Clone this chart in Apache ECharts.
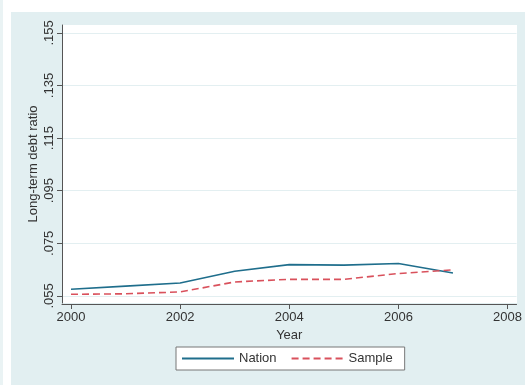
<!DOCTYPE html>
<html>
<head>
<meta charset="utf-8">
<script src="https://cdn.jsdelivr.net/npm/echarts@6/dist/echarts.min.js"></script>
<style>
  html, body { margin: 0; padding: 0; background: #ffffff; }
  #chart { width: 525px; height: 385px; }
</style>
</head>
<body>
<div id="chart"></div>
<script>
// Long-term debt ratio by year, nation vs. sample
const years = [2000, 2001, 2002, 2003, 2004, 2005, 2006, 2007];
const nation = [0.0575, 0.0587, 0.0599, 0.0644, 0.0669, 0.0667, 0.0673, 0.0637];
const sample = [0.0556, 0.0558, 0.0565, 0.0603, 0.0613, 0.0613, 0.0635, 0.0649];
const xTicks = [2000, 2002, 2004, 2006, 2008];
const yTicks = [0.055, 0.075, 0.095, 0.115, 0.135, 0.155];

const fontFamily = '"Liberation Sans", Arial, sans-serif';
const chart = echarts.init(document.getElementById('chart'), null, { renderer: 'canvas' });

const pairs = (vals) => years.map((y, i) => [y, vals[i]]);

chart.setOption({
  animation: false,
  backgroundColor: '#ffffff',
  graphic: [
    { type: 'rect', z: -10, shape: { x: 0, y: 0, width: 3, height: 385 }, style: { fill: '#eaf3f4' } },
    { type: 'rect', z: -10, shape: { x: 11, y: 12, width: 514, height: 373 }, style: { fill: '#e2eff1' } },
    { type: 'rect', z: -9, shape: { x: 62, y: 25, width: 455, height: 278 }, style: { fill: '#ffffff' } }
  ],
  grid: { left: 62, right: 8, top: 25, bottom: 82, containLabel: false },
  xAxis: {
    type: 'value',
    min: 1999.835,
    max: 2008.165,
    offset: 1,
    name: 'Year',
    nameLocation: 'middle',
    nameGap: 22,
    nameTextStyle: { color: '#333333', fontSize: 13, fontFamily: fontFamily, lineHeight: 13 },
    axisLine: { show: true, onZero: false, lineStyle: { color: '#555555', width: 1 } },
    axisTick: { show: true, length: 5, customValues: xTicks, lineStyle: { color: '#555555' } },
    axisLabel: { customValues: xTicks, color: '#333333', fontSize: 13, fontFamily: fontFamily, margin: 7,
                 formatter: (v) => String(v) },
    splitLine: { show: false }
  },
  yAxis: {
    type: 'value',
    min: 0.0523,
    max: 0.158,
    name: 'Long-term debt ratio',
    nameLocation: 'middle',
    nameGap: 22,
    nameMoveOverlap: false,
    nameRotate: 90,
    nameTextStyle: { color: '#333333', fontSize: 13, fontFamily: fontFamily },
    axisLine: { show: true, lineStyle: { color: '#555555', width: 1 } },
    axisTick: { show: true, length: 5, customValues: yTicks, lineStyle: { color: '#555555' } },
    axisLabel: { customValues: yTicks, rotate: 90, color: '#333333', fontSize: 13, fontFamily: fontFamily, margin: 6,
                 formatter: (v) => v.toFixed(3).replace(/^0/, '') },
    splitLine: { show: true, lineStyle: { color: '#e3eff1', width: 1 } }
  },
  legend: {
    left: 176,
    top: 347,
    orient: 'horizontal',
    padding: [5, 12, 5, 5],
    itemGap: 14,
    itemWidth: 52,
    itemHeight: 12,
    backgroundColor: '#ffffff',
    borderColor: '#777777',
    borderWidth: 1,
    itemStyle: { opacity: 0 },
    textStyle: { color: '#333333', fontSize: 13, fontFamily: fontFamily },
    data: ['Nation', 'Sample']
  },
  series: [
    {
      name: 'Nation',
      type: 'line',
      data: pairs(nation),
      symbol: 'none',
      lineStyle: { color: '#1f6e8c', width: 1.6 },
      itemStyle: { color: '#1f6e8c' }
    },
    {
      name: 'Sample',
      type: 'line',
      data: pairs(sample),
      symbol: 'none',
      lineStyle: { color: '#d9515c', width: 1.6, type: [7, 4] },
      itemStyle: { color: '#d9515c' }
    }
  ]
});
</script>
</body>
</html>
